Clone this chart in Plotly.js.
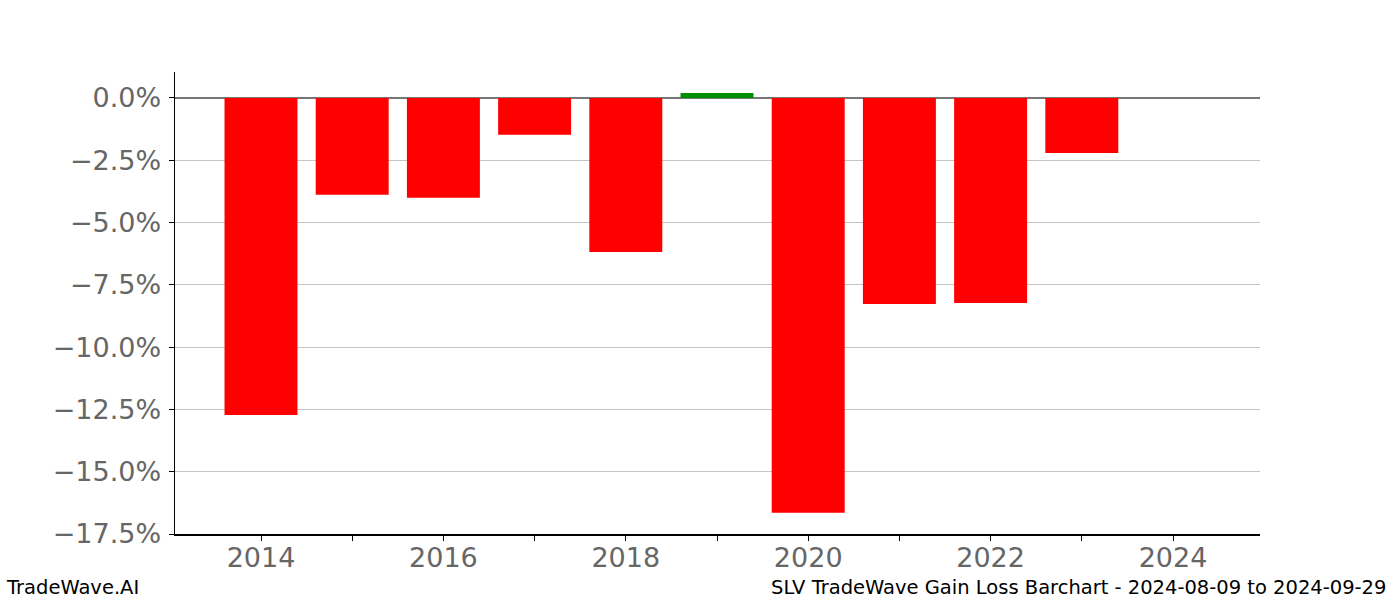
<!DOCTYPE html>
<html>
<head>
<meta charset="utf-8">
<script src="https://cdn.plot.ly/plotly-3.0.1.min.js"></script>
<style>html,body{margin:0;padding:0;background:#fff;}#chart{width:1400px;height:600px;}</style>
</head>
<body>
<div id="chart"></div>
<script>
const years = [2014, 2015, 2016, 2017, 2018, 2019, 2020, 2021, 2022, 2023];
const gains = [-12.72, -3.89, -4.01, -1.48, -6.18, 0.20, -16.65, -8.27, -8.23, -2.21];
const yTickVals = [0, -2.5, -5, -7.5, -10, -12.5, -15, -17.5];
const yTickText = ["0.0%", "\u22122.5%", "\u22125.0%", "\u22127.5%", "\u221210.0%", "\u221212.5%", "\u221215.0%", "\u221217.5%"];
const xTickVals = [2014, 2015, 2016, 2017, 2018, 2019, 2020, 2021, 2022, 2023, 2024];
const xTickText = ["2014", "", "2016", "", "2018", "", "2020", "", "2022", "", "2024"];

const colors = gains.map(v => v >= 0 ? "#008f00" : "#ff0000");
const trace = {
  type: "bar", x: years, y: gains, width: 0.8,
  marker: {color: colors, line: {width: 0}},
  hoverinfo: "x+y"
};
const layout = {
  width: 1400, height: 600,
  margin: {l: 175, r: 140, t: 72, b: 66},
  paper_bgcolor: "#fff", plot_bgcolor: "#fff",
  showlegend: false,
  font: {family: "DejaVu Sans", color: "#666"},
  xaxis: {
    range: [2013.057, 2024.954], tickvals: xTickVals, ticktext: xTickText,
    ticks: "outside", ticklen: 5, tickcolor: "#000", showgrid: false,
    showline: true, linecolor: "#000", linewidth: 1.5, zeroline: false,
    ticklabelstandoff: -6,
    tickfont: {size: 27, color: "#666"}
  },
  yaxis: {
    range: [-17.5, 1.04], tickvals: yTickVals, ticktext: yTickText,
    ticks: "outside", ticklen: 5, tickcolor: "#000",
    showgrid: true, gridcolor: "#c4c4c4", gridwidth: 1,
    zeroline: true, zerolinecolor: "#777", zerolinewidth: 1.2,
    showline: true, linecolor: "#000", linewidth: 1.5,
    ticklabelstandoff: 2,
    tickfont: {size: 27, color: "#666"}
  },
  annotations: [
    {text: "TradeWave.AI", xref: "paper", yref: "paper", x: -171/1085, y: -53/462,
     xanchor: "left", yanchor: "middle", showarrow: false, font: {size: 19.5, color: "#000", family: "DejaVu Sans"}},
    {text: "SLV TradeWave Gain Loss Barchart - 2024-08-09 to 2024-09-29", xref: "paper", yref: "paper",
     x: 1 + 128/1085, y: -53/462, xanchor: "right", yanchor: "middle", showarrow: false,
     font: {size: 19.5, color: "#000", family: "DejaVu Sans"}}
  ]
};
Plotly.newPlot("chart", [trace], layout, {displayModeBar: false, staticPlot: true});
</script>
</body>
</html>
